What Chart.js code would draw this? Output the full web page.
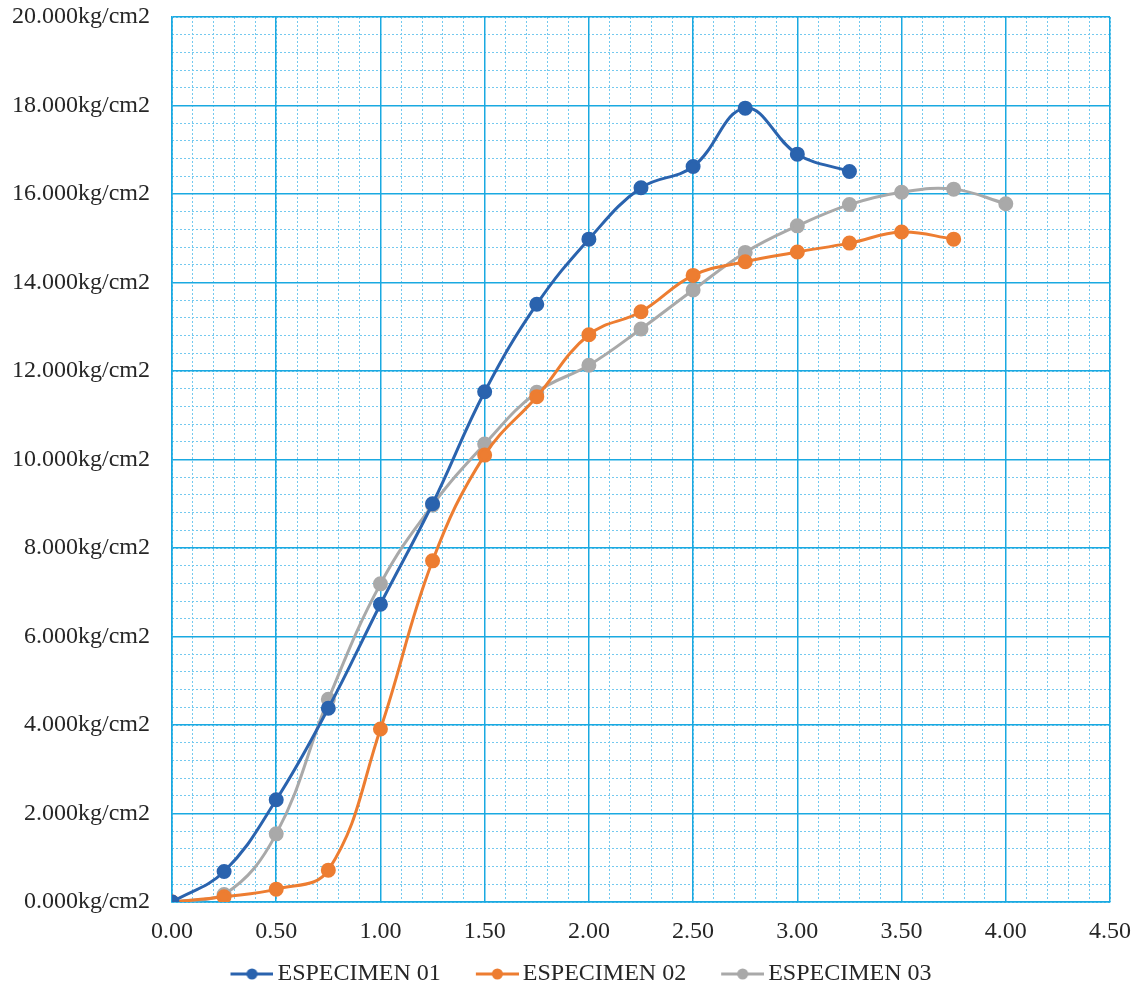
<!DOCTYPE html>
<html lang="es">
<head>
    <meta charset="UTF-8">
    <title>Esfuerzo - Deformación</title>
    <script src="https://cdn.jsdelivr.net/npm/chart.js"></script>
    <style>
        body {
            margin: 0;
            padding: 0;
            background: #ffffff;
        }

        .chart-box {
            width: 1139px;
            height: 988px;
        }
    </style>
</head>
<body>
    <div class="chart-box">
        <canvas id="lineChart"></canvas>
    </div>

    <script>
        const deformacion = [0, 0.25, 0.5, 0.75, 1.0, 1.25, 1.5, 1.75, 2.0, 2.25, 2.5, 2.75, 3.0, 3.25, 3.5, 3.75, 4.0];
        const especimen01 = [0, 0.69, 2.31, 4.38, 6.73, 9.0, 11.53, 13.51, 14.98, 16.14, 16.62, 17.94, 16.9, 16.51];
        const especimen02 = [0, 0.12, 0.29, 0.72, 3.91, 7.71, 10.1, 11.42, 12.82, 13.34, 14.16, 14.47, 14.69, 14.89, 15.14, 14.98];
        const especimen03 = [0, 0.17, 1.54, 4.58, 7.19, 8.97, 10.35, 11.52, 12.13, 12.95, 13.83, 14.68, 15.28, 15.76, 16.04, 16.11, 15.78];
        const seriesNames = ["ESPECIMEN 01", "ESPECIMEN 02", "ESPECIMEN 03"];
        const seriesColors = ['#2a63ae', '#ed7d31', '#a9a9a9'];

        const fontFamily = "'Liberation Serif', 'Times New Roman', serif";
        const textColor = '#262626';
        const majorGrid = '#1aa9e1';
        const minorGrid = '#74c9ef';

        function toPoints(values) {
            return values.map((v, i) => ({ x: deformacion[i], y: v }));
        }

        // line + dot sample for the legend, drawn in the right part of a wider canvas
        function legendIcon(color) {
            const c = document.createElement('canvas');
            c.width = 74;
            c.height = 14;
            const ctx = c.getContext('2d');
            ctx.strokeStyle = color;
            ctx.lineWidth = 3;
            ctx.beginPath();
            ctx.moveTo(31, 7);
            ctx.lineTo(74, 7);
            ctx.stroke();
            ctx.fillStyle = color;
            ctx.beginPath();
            ctx.arc(52.5, 7, 5.5, 0, Math.PI * 2);
            ctx.fill();
            return c;
        }

        const allSeries = [especimen01, especimen02, especimen03];

        new Chart(document.getElementById("lineChart"), {
            type: 'line',
            data: {
                datasets: allSeries.map((vals, i) => ({
                    label: seriesNames[i],
                    data: toPoints(vals),
                    borderColor: seriesColors[i],
                    backgroundColor: seriesColors[i],
                    pointBackgroundColor: seriesColors[i],
                    pointBorderColor: seriesColors[i],
                    pointRadius: 6,
                    borderWidth: 3,
                    tension: 0.4,
                    fill: false
                }))
            },
            options: {
                responsive: true,
                maintainAspectRatio: false,
                animation: false,
                layout: {
                    padding: { left: 12, right: 12, top: 0, bottom: -8 }
                },
                plugins: {
                    legend: {
                        position: 'bottom',
                        labels: {
                            color: textColor,
                            font: { family: fontFamily, size: 24 },
                            usePointStyle: true,
                            pointStyleWidth: 58,
                            padding: 12,
                            generateLabels: chart => chart.data.datasets.map((ds, i) => ({
                                text: ds.label,
                                pointStyle: legendIcon(seriesColors[i]),
                                fillStyle: seriesColors[i],
                                strokeStyle: seriesColors[i],
                                lineWidth: 0,
                                fontColor: textColor,
                                datasetIndex: i
                            }))
                        }
                    },
                    tooltip: { enabled: false }
                },
                scales: {
                    // dotted minor grid, no labels, no room taken
                    xMinor: {
                        type: 'linear',
                        position: 'bottom',
                        min: 0,
                        max: 4.5,
                        ticks: { display: false, stepSize: 0.1 },
                        grid: { color: minorGrid, lineWidth: 1, drawTicks: false },
                        border: { display: false, dash: [2, 2] },
                        afterFit: scale => { scale.height = 0; }
                    },
                    yMinor: {
                        type: 'linear',
                        position: 'left',
                        min: 0,
                        max: 20,
                        ticks: { display: false, stepSize: 0.4 },
                        grid: { color: minorGrid, lineWidth: 1, drawTicks: false },
                        border: { display: false, dash: [2, 2] },
                        afterFit: scale => { scale.width = 0; }
                    },
                    x: {
                        type: 'linear',
                        position: 'bottom',
                        min: 0,
                        max: 4.5,
                        ticks: {
                            stepSize: 0.5,
                            color: textColor,
                            padding: 15,
                            font: { family: fontFamily, size: 24 },
                            maxRotation: 0,
                            callback: v => Number(v).toFixed(2)
                        },
                        grid: { color: majorGrid, lineWidth: 1.5, drawTicks: false },
                        border: { color: majorGrid, width: 1.5 },
                        afterFit: scale => {
                            scale.height = 48;
                            scale.paddingRight = 29;
                        }
                    },
                    y: {
                        type: 'linear',
                        position: 'left',
                        min: 0,
                        max: 20,
                        ticks: {
                            stepSize: 2,
                            color: textColor,
                            padding: 22,
                            font: { family: fontFamily, size: 24 },
                            callback: v => Number(v).toFixed(3) + 'kg/cm2'
                        },
                        grid: { color: majorGrid, lineWidth: 1.5, drawTicks: false },
                        border: { color: majorGrid, width: 1.5 },
                        afterFit: scale => {
                            scale.width = 160;
                            scale.paddingTop = 17;
                        }
                    }
                }
            }
        });
    </script>
</body>
</html>
